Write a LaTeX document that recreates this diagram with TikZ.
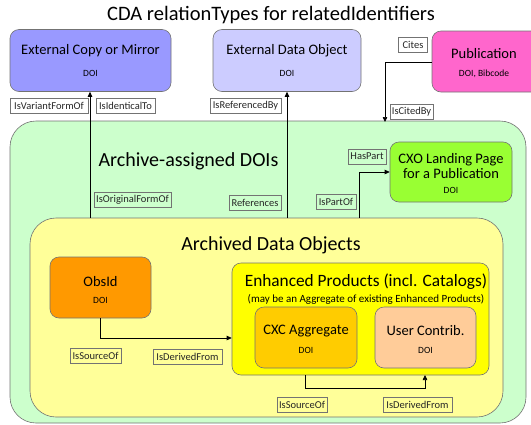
\documentclass[tikz,border=0pt]{standalone}
\usepackage{fontspec}
\setmainfont{Carlito}
\usetikzlibrary{arrows.meta}
\definecolor{cEcm}{HTML}{9999FF}
\definecolor{cEdo}{HTML}{CCCCFF}
\definecolor{cPub}{HTML}{FF66CC}
\definecolor{cGreen}{HTML}{CCFFCC}
\definecolor{cCxo}{HTML}{99FF33}
\definecolor{cYel}{HTML}{FFFF99}
\definecolor{cObs}{HTML}{FF9900}
\definecolor{cEnh}{HTML}{FFFF00}
\definecolor{cCxc}{HTML}{FFCC00}
\definecolor{cUsr}{HTML}{FFCC99}
\newcommand{\fs}[1]{\fontsize{#1}{#1}\selectfont}
\tikzset{
  box/.style={draw=black!55, line width=0.6pt, rounded corners=9pt, align=center, inner sep=0pt},
  container/.style={draw=black!55, line width=0.6pt, rounded corners=26pt, inner sep=0pt},
  rel/.style={draw=black!55, line width=0.5pt, inner xsep=2pt, inner ysep=0pt, minimum height=15pt, font=\fs{10.5}, text=black!85},
  arr/.style={draw=black, line width=0.7pt, -{Triangle[length=5pt,width=4.5pt]}},
  boxtitle/.style={font=\fs{14.5}},
  doi/.style={font=\fs{9.5}},
}
\begin{document}
\begin{tikzpicture}[x=1pt,y=-1pt]
\useasboundingbox (0,0) rectangle (531,424);
% title
\node[font=\fs{20.5}] (title) at (271,15) {CDA relationTypes for relatedIdentifiers};
% top boxes
\node[box, fill=cEcm, minimum width=161pt, minimum height=62pt] (ecm) at (90.5,60.5) {};
\node[boxtitle] (ecmt) at (90.5,51) {External Copy or Mirror};
\node[doi] (ecmd) at (90.5,73) {DOI};
\node[box, fill=cEdo, minimum width=148pt, minimum height=62pt] (edo) at (287,60.5) {};
\node[boxtitle] (edot) at (287,51) {External Data Object};
\node[doi] (edod) at (287,73) {DOI};
\node[box, fill=cPub, minimum width=110pt, minimum height=61pt] (pub) at (487,61.5) {};
\node[boxtitle] (pubt) at (484,54) {Publication};
\node[doi] (pubd) at (484,74) {DOI, Bibcode};
% green container
\node[container, fill=cGreen, minimum width=516pt, minimum height=302pt] (green) at (268,272) {};
\node[font=\fs{20}, anchor=west] (greent) at (95,161) {Archive-assigned DOIs};
\node[box, fill=cCxo, minimum width=122pt, minimum height=60pt] (cxo) at (451,172) {};
\node[font=\fs{14.5}, align=center] (cxot) at (451,166) {CXO Landing Page\\for a Publication};
\node[doi] (cxod) at (451,190) {DOI};
% yellow container
\node[container, fill=cYel, minimum width=473pt, minimum height=199pt] (yel) at (266.5,317.5) {};
\node[font=\fs{20}] (yelt) at (271,245) {Archived Data Objects};
\node[box, fill=cObs, minimum width=101pt, minimum height=61pt] (obs) at (100.5,287.5) {};
\node[boxtitle] (obst) at (100.5,282) {ObsId};
\node[doi] (obsd) at (100.5,300) {DOI};
\node[box, fill=cEnh, minimum width=257pt, minimum height=112pt] (enh) at (360.5,319) {};
\node[font=\fs{17.3}] (enht) at (366,282) {Enhanced Products (incl. Catalogs)};
\node[font=\fs{11}] (enhs) at (366,299) {(may be an Aggregate of existing Enhanced Products)};
\node[box, fill=cCxc, minimum width=102pt, minimum height=61pt] (cxc) at (306,337.5) {};
\node[boxtitle] (cxct) at (306,331) {CXC Aggregate};
\node[doi] (cxcd) at (306,350) {DOI};
\node[box, fill=cUsr, minimum width=101pt, minimum height=61pt] (usr) at (425.5,337.5) {};
\node[boxtitle] (usrt) at (425.5,331) {User Contrib.};
\node[doi] (usrd) at (425.5,350) {DOI};
% relation labels
\node[rel, minimum width=78pt] (lVar) at (49,105.5) {IsVariantFormOf};
\node[rel, minimum width=59pt] (lIdent) at (125.5,105.5) {IsIdenticalTo};
\node[rel, minimum width=71pt] (lRefBy) at (245.5,105.5) {IsReferencedBy};
\node[rel, minimum width=29pt] (lCites) at (413,45) {Cites};
\node[rel, minimum width=38pt] (lCitedBy) at (411.5,111.5) {IsCitedBy};
\node[rel, minimum width=38pt] (lHasPart) at (367,156.5) {HasPart};
\node[rel, minimum width=75pt] (lOrig) at (132.5,199.5) {IsOriginalFormOf};
\node[rel, minimum width=52pt] (lRefs) at (255,202.5) {References};
\node[rel, minimum width=40pt] (lPartOf) at (336,202) {IsPartOf};
\node[rel, minimum width=51pt] (lSrc1) at (95.5,356) {IsSourceOf};
\node[rel, minimum width=69pt] (lDer1) at (187.5,356.5) {IsDerivedFrom};
\node[rel, minimum width=50pt] (lSrc2) at (302,404.5) {IsSourceOf};
\node[rel, minimum width=69pt] (lDer2) at (417.5,404.5) {IsDerivedFrom};
% connector points
\coordinate (pEcm) at (90,218);
\coordinate (pEdo) at (287,218);
\coordinate (pPub) at (385,122);
\coordinate (pCxo) at (359,218);
\coordinate (pObs) at (100.5,338);
\coordinate (pB1) at (305,375);
\coordinate (pB2) at (305,388);
\coordinate (pB3) at (425,375);
% connectors
\draw[arr] (pEcm) -- (pEcm |- ecm.south);
\draw[arr] (pEdo) -- (edo.south);
\draw[arr] (pub.west |- 0,62) -| (pPub);
\draw[arr] (pCxo) |- (cxo.west);
\draw[arr] (obs.south) |- (enh.west |- pObs);
\draw[arr] (pB1) -- (pB2) -| (pB3);
\end{tikzpicture}
\end{document}
